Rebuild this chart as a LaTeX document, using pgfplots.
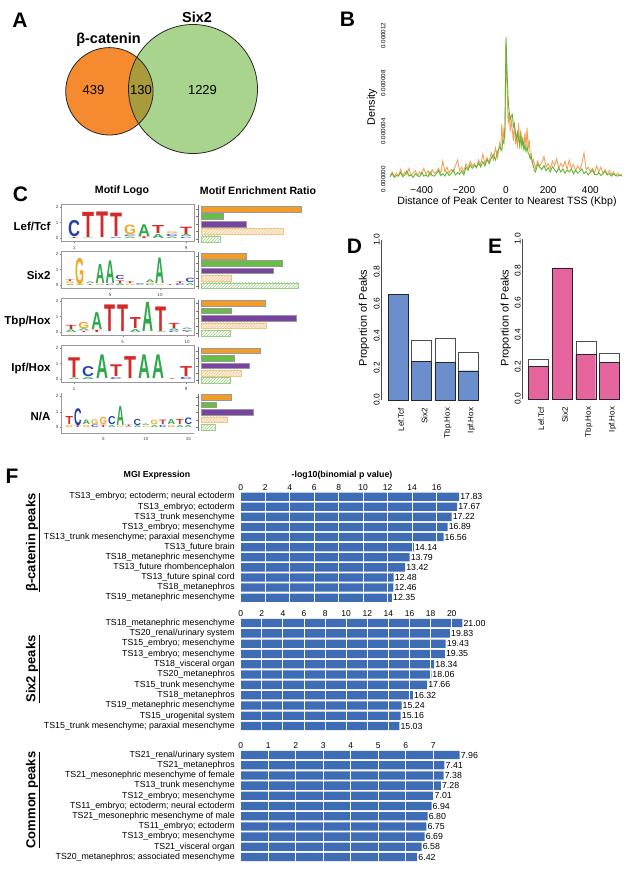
\documentclass[border=0pt]{standalone}
\usepackage{fontspec}
\setmainfont{Liberation Sans}
\usepackage{graphicx}
\usepackage{pgfplots}
\pgfplotsset{compat=1.18}
\usetikzlibrary{patterns}
\definecolor{vor}{HTML}{F58A2F}
\definecolor{vgr}{HTML}{A9D48E}
\definecolor{vol}{HTML}{A99B3C}
\definecolor{lA}{HTML}{2EA84A}
\definecolor{lC}{HTML}{2440B0}
\definecolor{lG}{HTML}{F5A623}
\definecolor{lT}{HTML}{D52A2A}
\definecolor{eor}{HTML}{F39C26}
\definecolor{egr}{HTML}{68BE45}
\definecolor{epu}{HTML}{7745A0}
\definecolor{ebe}{HTML}{FCF1DE}
\definecolor{ebl}{HTML}{F0C58A}
\definecolor{ehg}{HTML}{9CCF86}
\definecolor{dline}{HTML}{F2A15E}
\definecolor{gline}{HTML}{5EB832}
\definecolor{dblue}{HTML}{6B8FCC}
\definecolor{epink}{HTML}{E6649D}
\definecolor{fblue}{HTML}{3E6DB5}
\pgfplotsset{/pgf/number format/assume math mode=true}
\newcommand\fs[1]{\fontsize{#1}{#1}\selectfont}
% sequence logo letter: position, base, height (bits), letter, colour
\newdimen\ppbd \ppbd=14.6pt
\newcommand\lw{12}
\newcommand\lgL[5]{\node[anchor=base,inner sep=0pt,text=#5] at (axis cs:#1,#2) {\resizebox{\lw pt}{#3\ppbd}{\fs{10}\bfseries #4}};}
\pgfplotsset{
  logo/.style={scale only axis, anchor=north west, width=133pt, height=37pt,
    ymin=-0.19, ymax=2.19, ytick={0,1,2}, axis line style={black!40},
    tick style={black!50}, tick align=outside, major tick length=1.5pt,
    xtick pos=bottom, ytick pos=left, tick label style={font=\fs{4.5}, text=black!75},
    yticklabel style={inner sep=0.8pt}, xticklabel style={inner sep=0.8pt, yshift=-2.5pt},
    clip=false},
  enr/.style={scale only axis, anchor=north west, width=108.5pt, height=37.25pt,
    xmin=-0.35, xmax=10.5, ymin=0.5, ymax=5.5, y dir=reverse, xbar, bar width=5.8pt,
    bar shift=0pt, axis y line*=left, axis x line=none, ytick={1,2,3,4,5},
    yticklabels={,,,,}, tick align=outside, major tick length=2pt,
    axis line style={black!55}, tick style={black!55}, clip=false},
  fbar/.style={scale only axis, anchor=north west, xbar, bar width=8.3pt, y dir=reverse,
    ymin=0.5, ymax=11.5, xmin=0, ytick={1,...,11}, axis line style={draw=none},
    tick style={draw=none}, xticklabel pos=upper, xmajorgrids,
    grid style={white, line width=0.9pt}, axis on top,
    xticklabel style={font=\fs{8.5}, inner sep=0.8pt},
    yticklabel style={font=\fs{8.8}, inner sep=1.5pt},
    nodes near coords={\pgfmathprintnumber[fixed,fixed zerofill,precision=2]{\pgfplotspointmeta}},
    nodes near coords align=horizontal, point meta=x,
    every node near coord/.append style={font=\fs{8.8}, inner sep=1pt}, clip=false},
  prop/.style={scale only axis, anchor=north west, height=160pt, ymin=0, ymax=1,
    ybar, bar width=20pt, axis y line*=left, axis x line*=bottom,
    x axis line style={draw=none}, xtick={1,2,3,4},
    xticklabels={Lef.Tcf,Six2,Tbp.Hox,Ipf.Hox}, xtick style={draw=none},
    xticklabel style={rotate=90, anchor=east, font=\fs{8}, yshift=-3pt},
    ytick={0,0.2,0.4,0.6,0.8,1}, yticklabels={0.0,0.2,0.4,0.6,0.8,1.0},
    yticklabel style={rotate=90, anchor=south, font=\fs{8.4}, inner sep=1pt},
    ytick style={draw=none}, axis line style={black!70}, clip=false}
}
\begin{document}
\begin{tikzpicture}
\path[use as bounding box] (0,0) rectangle (628pt,-870pt);

% canvas: Venn diagram, panel letters and titles
\begin{axis}[at={(0pt,0pt)}, anchor=north west, scale only axis, width=628pt, height=870pt,
  xmin=0, xmax=628, ymin=0, ymax=870, y dir=reverse, hide axis, clip=false]
\pgfplotsextra{
  \fill[vor] (axis cs:109.4,91.3) circle[radius=43.7pt];
  \fill[vgr] (axis cs:193,89) circle[radius=64.5pt];
  \begin{scope}
    \clip (axis cs:109.4,91.3) circle[radius=43.7pt];
    \fill[vol] (axis cs:193,89) circle[radius=64.5pt];
  \end{scope}
  \draw[black!85, line width=0.8pt] (axis cs:109.4,91.3) circle[radius=43.7pt];
  \draw[black!85, line width=0.8pt] (axis cs:193,89) circle[radius=64.5pt];
}
\node[font=\fs{14.5}\bfseries] at (axis cs:108.5,40) {β-catenin};
\node[font=\fs{14.5}\bfseries] at (axis cs:197,17.5) {Six2};
\node[font=\fs{13}] at (axis cs:93.5,90) {439};
\node[font=\fs{13}] at (axis cs:141,90) {130};
\node[font=\fs{13}] at (axis cs:202.5,90) {1229};
\node[font=\fs{21}\bfseries] at (axis cs:20,20.5) {A};
\node[font=\fs{21}\bfseries] at (axis cs:347.5,19.5) {B};
\node[font=\fs{21}\bfseries] at (axis cs:20.5,194.5) {C};
\node[font=\fs{21}\bfseries] at (axis cs:354.5,246.5) {D};
\node[font=\fs{21}\bfseries] at (axis cs:495,246.5) {E};
\node[font=\fs{21}\bfseries] at (axis cs:12,476.5) {F};
\node[rotate=90,font=\fs{10.8}] at (axis cs:372,107) {Density};
\node[font=\fs{10.6}] at (axis cs:507,201.7) {Distance of Peak Center to Nearest TSS (Kbp)};
\node[font=\fs{10.6}\bfseries] at (axis cs:122,191) {Motif Logo};
\node[font=\fs{10.6}\bfseries] at (axis cs:258,191) {Motif Enrichment Ratio};
\node[anchor=east,font=\fs{11.5}\bfseries] at (axis cs:54,226.7) {Lef/Tcf};
\node[anchor=east,font=\fs{11.5}\bfseries] at (axis cs:54,275) {Six2};
\node[anchor=east,font=\fs{11.5}\bfseries] at (axis cs:54,321.7) {Tbp/Hox};
\node[anchor=east,font=\fs{11.5}\bfseries] at (axis cs:54,369) {Ipf/Hox};
\node[anchor=east,font=\fs{11.5}\bfseries] at (axis cs:54,416.7) {N/A};
\node[rotate=90,font=\fs{11}] at (axis cs:364,318) {Proportion of Peaks};
\node[rotate=90,font=\fs{11}] at (axis cs:505.7,318) {Proportion of Peaks};
\node[font=\fs{8.8}\bfseries] at (axis cs:157,475) {MGI Expression};
\node[font=\fs{8.8}\bfseries] at (axis cs:342,475) {-log10(binomial p value)};
\node[rotate=90,font=\fs{13}\bfseries] at (axis cs:33,542.5) {\underline{β-catenin peaks}};
\node[rotate=90,font=\fs{13}\bfseries] at (axis cs:33,669) {\underline{Six2 peaks}};
\node[rotate=90,font=\fs{13}\bfseries] at (axis cs:33,800) {\underline{Common peaks}};
\end{axis}

% B: density of peak distance to TSS
\begin{axis}[scale only axis, anchor=north west, at={(389pt,-32pt)}, width=234pt, height=150.7pt,
  xmin=-555, xmax=555, ymin=-0.3, ymax=12.3, axis line style={draw=none}, tick style={draw=none},
  xtick={-400,-200,0,200,400}, xticklabels={−400,−200,0,200,400},
  ytick={0,4,8,12}, yticklabels={0.000000,0.000004,0.000008,0.000012},
  yticklabel style={rotate=90, anchor=south, font=\fs{6.2}}, xticklabel style={font=\fs{10}},
  clip=false]
\addplot[dline, line width=0.9pt] coordinates {
(-550,0.3)(-540,0.6)(-530,0.2)(-520,0.5)(-510,0.3)(-500,0.8)(-490,0.3)(-480,0.6)(-470,0.4)(-460,0.9)
(-450,0.3)(-440,0.5)(-430,0.7)(-420,0.3)(-410,0.6)(-400,0.4)(-390,0.9)(-380,0.4)(-370,0.7)(-360,0.3)
(-350,0.8)(-340,0.5)(-330,0.6)(-320,0.9)(-310,0.5)(-300,1.5)(-290,0.6)(-280,1.0)(-270,0.5)(-260,0.8)
(-250,0.6)(-240,1.1)(-230,1.6)(-220,0.7)(-210,1.0)(-200,0.6)(-190,1.3)(-180,0.9)(-170,1.5)(-160,1.1)
(-150,1.3)(-140,1.0)(-130,1.6)(-120,1.2)(-110,2.1)(-100,1.3)(-90,1.8)(-80,1.4)(-70,2.2)(-60,1.6)
(-50,2.6)(-40,1.8)(-30,3.0)(-25,2.5)(-20,4.6)(-15,3.0)(-10,4.2)(-5,3.8)(0,11.4)(5,7.5)
(10,4.6)(15,5.6)(20,4.0)(25,4.9)(30,4.1)(35,3.2)(40,4.8)(45,2.9)(50,3.6)(55,2.6)
(60,4.7)(65,2.5)(70,4.1)(75,3.0)(80,3.4)(85,2.4)(90,3.9)(95,2.7)(100,4.3)(105,2.5)
(110,3.3)(115,1.9)(120,2.1)(125,1.3)(130,1.6)(140,0.9)(150,1.5)(160,1.1)(170,1.4)(180,1.9)
(190,1.0)(200,1.3)(210,0.9)(220,1.5)(230,1.1)(240,1.7)(250,0.9)(260,1.3)(270,1.0)(280,1.5)
(290,0.8)(300,1.6)(310,0.9)(320,1.2)(330,0.7)(340,1.1)(350,0.8)(360,1.3)(370,2.2)(380,0.8)
(390,1.0)(400,0.6)(410,0.9)(420,0.5)(430,1.1)(440,0.6)(450,1.0)(460,0.5)(470,0.8)(480,0.4)
(490,0.7)(500,0.4)(510,0.6)(520,0.3)(530,0.5)(540,0.3)(550,0.4)};
\addplot[gline, line width=0.9pt] coordinates {
(-550,0.2)(-540,0.45)(-530,0.15)(-520,0.3)(-510,0.25)(-500,0.55)(-490,0.2)(-480,0.35)(-470,0.7)(-460,0.25)
(-450,0.35)(-440,0.15)(-430,0.45)(-420,0.3)(-410,0.2)(-400,0.55)(-390,0.25)(-380,0.35)(-370,0.2)(-360,0.6)
(-350,0.3)(-340,0.25)(-330,0.5)(-320,0.7)(-310,0.3)(-300,0.45)(-290,0.25)(-280,0.6)(-270,0.3)(-260,0.45)
(-250,0.8)(-240,0.35)(-230,0.55)(-220,0.4)(-210,0.7)(-200,0.35)(-190,1.0)(-180,0.75)(-170,1.2)(-160,0.9)
(-150,1.15)(-140,0.95)(-130,1.35)(-120,1.0)(-110,1.45)(-100,1.1)(-90,1.65)(-80,1.3)(-70,1.75)(-60,2.05)
(-50,1.6)(-40,2.3)(-30,2.7)(-20,2.4)(-15,3.2)(-10,3.0)(-5,4.2)(0,11.9)(5,9.0)(10,6.8)
(15,5.6)(20,5.0)(25,5.3)(30,5.4)(35,4.4)(40,4.6)(45,3.8)(50,3.4)(55,3.9)(60,3.3)
(65,2.9)(70,3.6)(75,2.7)(80,3.3)(85,2.5)(90,2.8)(95,2.3)(100,2.7)(105,2.2)(110,2.0)
(115,1.7)(120,1.9)(125,1.4)(130,1.1)(135,0.7)(140,0.6)(150,1.25)(160,1.0)(170,0.8)(180,1.15)
(190,0.7)(200,0.95)(210,0.6)(220,1.05)(230,0.8)(240,0.55)(250,0.95)(260,0.6)(270,0.85)(280,0.5)
(290,0.75)(300,0.6)(310,0.85)(320,0.45)(330,0.75)(340,0.5)(350,0.65)(360,0.85)(370,0.45)(380,0.65)
(390,0.35)(400,0.55)(410,0.75)(420,0.4)(430,0.35)(440,0.55)(450,0.3)(460,0.45)(470,0.65)(480,0.35)
(490,0.45)(500,0.25)(510,0.45)(520,0.3)(530,0.25)(540,0.35)(550,0.25)};
\end{axis}

% C: motif logos
\renewcommand\lw{12}
\begin{axis}[logo, at={(61pt,-204pt)}, xmin=0.07, xmax=9.57, xtick={1,9}]
\lgL{1}{0.09}{1.1}{C}{lC}\lgL{1}{0}{0.07}{T}{lT}
\lgL{2}{0.05}{1.72}{T}{lT}\lgL{2}{0}{0.04}{A}{lA}
\lgL{3}{0.03}{1.75}{T}{lT}
\lgL{4}{0.08}{1.6}{T}{lT}\lgL{4}{0}{0.06}{C}{lC}
\lgL{5}{0.22}{0.65}{G}{lG}\lgL{5}{0.11}{0.1}{C}{lC}\lgL{5}{0}{0.1}{A}{lA}
\lgL{6}{0.13}{0.8}{A}{lA}\lgL{6}{0}{0.12}{T}{lT}
\lgL{7}{0.31}{0.55}{T}{lT}\lgL{7}{0}{0.28}{A}{lA}
\lgL{8}{0.28}{0.12}{G}{lG}\lgL{8}{0.11}{0.15}{C}{lC}\lgL{8}{0}{0.1}{A}{lA}
\lgL{9}{0.24}{0.5}{T}{lT}\lgL{9}{0.09}{0.14}{A}{lA}\lgL{9}{0}{0.08}{C}{lC}
\end{axis}
\renewcommand\lw{9}
\begin{axis}[logo, at={(61pt,-251pt)}, xmin=0.1, xmax=13.4, xtick={5,10}]
\lgL{1}{0.22}{0.12}{T}{lT}\lgL{1}{0.09}{0.12}{G}{lG}\lgL{1}{0}{0.08}{A}{lA}
\lgL{2}{0.06}{1.8}{G}{lG}\lgL{2}{0}{0.05}{A}{lA}
\lgL{3}{0.07}{0.1}{A}{lA}\lgL{3}{0}{0.06}{T}{lT}
\lgL{4}{0.11}{1.3}{A}{lA}\lgL{4}{0}{0.1}{G}{lG}
\lgL{5}{0.09}{1.55}{A}{lA}\lgL{5}{0}{0.08}{C}{lC}
\lgL{6}{0.33}{0.28}{C}{lC}\lgL{6}{0.13}{0.18}{T}{lT}\lgL{6}{0}{0.12}{A}{lA}
\lgL{7}{0.11}{0.12}{T}{lT}\lgL{7}{0}{0.1}{G}{lG}
\lgL{8}{0.06}{0.06}{C}{lC}\lgL{8}{0}{0.05}{A}{lA}
\lgL{9}{0.17}{0.18}{A}{lA}\lgL{9}{0.06}{0.1}{G}{lG}\lgL{9}{0}{0.05}{C}{lC}
\lgL{10}{0.07}{1.75}{A}{lA}\lgL{10}{0}{0.06}{G}{lG}
\lgL{11}{0}{0.05}{T}{lT}
\lgL{12}{0.13}{0.12}{T}{lT}\lgL{12}{0}{0.12}{C}{lC}
\lgL{13}{0.14}{0.3}{C}{lC}\lgL{13}{0}{0.12}{A}{lA}
\end{axis}
\renewcommand\lw{11}
\begin{axis}[logo, at={(61pt,-298pt)}, xmin=0.22, xmax=10.54, xtick={5,10}]
\lgL{1}{0.19}{0.28}{T}{lT}\lgL{1}{0}{0.18}{A}{lA}
\lgL{2}{0.22}{0.42}{G}{lG}\lgL{2}{0.09}{0.12}{A}{lA}\lgL{2}{0}{0.08}{T}{lT}
\lgL{3}{0.16}{1.15}{A}{lA}\lgL{3}{0}{0.15}{T}{lT}
\lgL{4}{0.02}{1.82}{T}{lT}
\lgL{5}{0.02}{1.82}{T}{lT}
\lgL{6}{0.21}{0.75}{T}{lT}\lgL{6}{0}{0.2}{A}{lA}
\lgL{7}{0.02}{2.0}{A}{lA}
\lgL{8}{0.06}{1.68}{T}{lT}\lgL{8}{0}{0.05}{A}{lA}
\lgL{9}{0.24}{0.35}{T}{lT}\lgL{9}{0.11}{0.12}{A}{lA}\lgL{9}{0}{0.1}{C}{lC}
\lgL{10}{0.14}{0.1}{A}{lA}\lgL{10}{0.06}{0.07}{C}{lC}\lgL{10}{0}{0.05}{T}{lT}
\end{axis}
\renewcommand\lw{12}
\begin{axis}[logo, at={(61pt,-345pt)}, xmin=0.07, xmax=9.57, xtick={1,9}]
\lgL{1}{0.11}{1.35}{T}{lT}\lgL{1}{0}{0.1}{A}{lA}
\lgL{2}{0.17}{0.68}{C}{lC}\lgL{2}{0}{0.15}{A}{lA}
\lgL{3}{0.04}{1.62}{A}{lA}
\lgL{4}{0.14}{0.8}{T}{lT}\lgL{4}{0}{0.12}{C}{lC}
\lgL{5}{0.05}{1.5}{T}{lT}
\lgL{6}{0.03}{1.62}{A}{lA}
\lgL{7}{0.03}{1.62}{A}{lA}
\lgL{8}{0}{0.05}{T}{lT}
\lgL{9}{0.17}{0.68}{T}{lT}\lgL{9}{0}{0.15}{C}{lC}
\end{axis}
\renewcommand\lw{7.5}
\begin{axis}[logo, at={(61pt,-393.4pt)}, height=39.4pt, ymin=-0.35, xmin=0.02, xmax=15.67,
  xtick={5,10,15}, axis lines*=left]
\lgL{1}{0.17}{0.55}{T}{lT}\lgL{1}{0}{0.15}{G}{lG}
\lgL{2}{0.14}{1.15}{C}{lC}\lgL{2}{0}{0.12}{T}{lT}
\lgL{3}{0.17}{0.3}{A}{lA}\lgL{3}{0}{0.15}{G}{lG}
\lgL{4}{0.21}{0.32}{G}{lG}\lgL{4}{0}{0.18}{C}{lC}
\lgL{5}{0.17}{0.5}{G}{lG}\lgL{5}{0}{0.15}{T}{lT}
\lgL{6}{0.17}{0.55}{C}{lC}\lgL{6}{0}{0.15}{A}{lA}
\lgL{7}{0.11}{1.3}{A}{lA}\lgL{7}{0}{0.1}{G}{lG}
\lgL{8}{0.06}{0.1}{T}{lT}\lgL{8}{0}{0.05}{C}{lC}
\lgL{9}{0.14}{0.42}{C}{lC}\lgL{9}{0}{0.12}{A}{lA}
\lgL{10}{0.09}{0.1}{A}{lA}\lgL{10}{0}{0.08}{G}{lG}
\lgL{11}{0.17}{0.3}{G}{lG}\lgL{11}{0}{0.15}{A}{lA}
\lgL{12}{0.17}{0.3}{T}{lT}\lgL{12}{0}{0.15}{C}{lC}
\lgL{13}{0.17}{0.35}{A}{lA}\lgL{13}{0}{0.15}{G}{lG}
\lgL{14}{0.17}{0.35}{T}{lT}\lgL{14}{0}{0.15}{A}{lA}
\lgL{15}{0.17}{0.45}{C}{lC}\lgL{15}{0}{0.15}{A}{lA}
\end{axis}

% C: motif enrichment ratio, one small axis per motif
\newcommand\enr[7]{%
\begin{axis}[enr, at={(198pt,-#1pt)}, #7]
\addplot[fill=eor, draw=black!40, line width=0.4pt] coordinates {(#2,1)};
\addplot[fill=egr, draw=black!40, line width=0.4pt] coordinates {(#3,2)};
\addplot[fill=epu, draw=black!40, line width=0.4pt] coordinates {(#4,3)};
\addplot[fill=ebe, draw=ebl, line width=0.4pt, postaction={pattern=north east lines, pattern color=ebl}] coordinates {(#5,4)};
\addplot[fill=white, draw=ehg, line width=0.4pt, postaction={pattern=north east lines, pattern color=ehg}] coordinates {(#6,5)};
\end{axis}}
\enr{205.3}{10.0}{2.2}{4.5}{8.2}{1.9}{}
\enr{252.1}{4.5}{8.1}{7.2}{3.0}{9.7}{}
\enr{299.6}{6.4}{3.0}{9.5}{6.5}{2.9}{}
\enr{347}{5.9}{3.3}{4.8}{4.0}{2.9}{}
\enr{393.6}{3.0}{1.5}{5.2}{2.6}{1.4}{axis x line*=bottom, xtick={0,2,4,6,8,10}, xticklabel style={font=\fs{6.5}, text=black!80}}

% D and E: proportion of peaks
\begin{axis}[prop, at={(381pt,-240pt)}, width=101.3pt, xmin=0.27, xmax=4.6]
\addplot[fill=white, draw=black!70, bar shift=0pt] coordinates {(1,0.66)(2,0.371)(3,0.385)(4,0.30)};
\addplot[fill=dblue, draw=black!85, bar shift=0pt] coordinates {(1,0.66)(2,0.24)(3,0.235)(4,0.183)};
\end{axis}
\begin{axis}[prop, at={(522pt,-239pt)}, width=98.1pt, xmin=0.31, xmax=4.45]
\addplot[fill=white, draw=black!70, bar shift=0pt] coordinates {(1,0.248)(2,0.82)(3,0.3625)(4,0.286)};
\addplot[fill=epink, draw=black!85, bar shift=0pt] coordinates {(1,0.202)(2,0.82)(3,0.279)(4,0.229)};
\end{axis}

% F: MGI expression enrichment
\begin{axis}[fbar, at={(240.7pt,-491.6pt)}, width=218.4pt, height=111.1pt, xmax=17.83,
  xtick={0,2,...,16},
  yticklabels={{TS13\_embryo; ectoderm; neural ectoderm},{TS13\_embryo; ectoderm},
    {TS13\_trunk mesenchyme},{TS13\_embryo; mesenchyme},
    {TS13\_trunk mesenchyme; paraxial mesenchyme},{TS13\_future brain},
    {TS18\_metanephric mesenchyme},{TS13\_future rhombencephalon},
    {TS13\_future spinal cord},{TS18\_metanephros},{TS19\_metanephric mesenchyme}}]
\addplot[fill=fblue, draw=none] coordinates {(17.83,1)(17.67,2)(17.22,3)(16.89,4)(16.56,5)
  (14.14,6)(13.79,7)(13.42,8)(12.48,9)(12.46,10)(12.35,11)};
\end{axis}
\begin{axis}[fbar, at={(240.7pt,-617.9pt)}, width=221.6pt, height=113.3pt, xmax=21,
  xtick={0,2,...,20},
  yticklabels={{TS18\_metanephric mesenchyme},{TS20\_renal/urinary system},
    {TS15\_embryo; mesenchyme},{TS13\_embryo; mesenchyme},{TS18\_visceral organ},
    {TS20\_metanephros},{TS15\_trunk mesenchyme},{TS18\_metanephros},
    {TS19\_metanephric mesenchyme},{TS15\_urogenital system},
    {TS15\_trunk mesenchyme; paraxial mesenchyme}}]
\addplot[fill=fblue, draw=none] coordinates {(21.00,1)(19.83,2)(19.43,3)(19.35,4)(18.34,5)
  (18.06,6)(17.66,7)(16.32,8)(15.24,9)(15.16,10)(15.03,11)};
\end{axis}
\begin{axis}[fbar, at={(240.7pt,-749.9pt)}, width=218.9pt, height=112.2pt, xmax=7.96,
  xtick={0,1,...,7},
  yticklabels={{TS21\_renal/urinary system},{TS21\_metanephros},
    {TS21\_mesonephric mesenchyme of female},{TS13\_trunk mesenchyme},
    {TS12\_embryo; mesenchyme},{TS11\_embryo; ectoderm; neural ectoderm},
    {TS21\_mesonephric mesenchyme of male},{TS11\_embryo; ectoderm},
    {TS13\_embryo; mesenchyme},{TS21\_visceral organ},
    {TS20\_metanephros; associated mesenchyme}}]
\addplot[fill=fblue, draw=none] coordinates {(7.96,1)(7.41,2)(7.38,3)(7.28,4)(7.01,5)
  (6.94,6)(6.80,7)(6.75,8)(6.69,9)(6.58,10)(6.42,11)};
\end{axis}
\end{tikzpicture}
\end{document}
